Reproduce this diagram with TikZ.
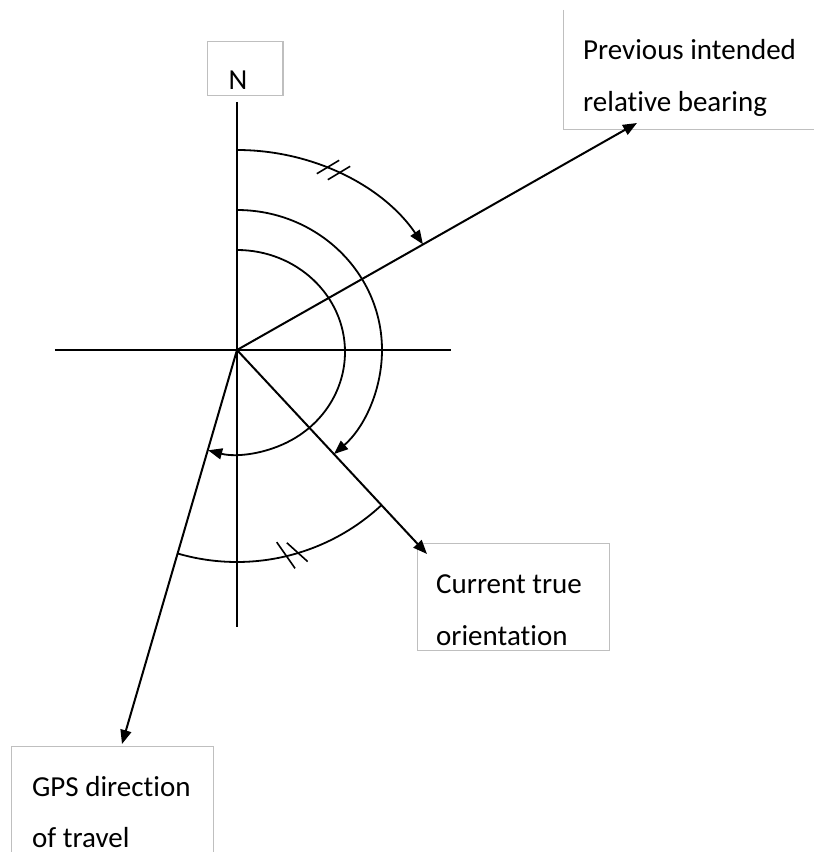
\documentclass[tikz,border=0pt]{standalone}
\usepackage{fontspec}
\setmainfont{Carlito}[Ligatures=NoCommon]
\usetikzlibrary{arrows.meta}
\begin{document}
\begin{tikzpicture}[x=1pt,y=1pt,
  axis/.style={line width=2pt},
  ray/.style={line width=2pt,-{Triangle[length=14pt,width=11pt]}},
  arcline/.style={line width=1.8pt},
  arcarrow/.style={line width=1.8pt,-{Triangle[length=14pt,width=11pt]}},
  tickmark/.style={line width=1.6pt},
  boxline/.style={draw=black!25,line width=1pt},
  lbl/.style={inner sep=0pt,anchor=base west,font=\fontsize{29}{35}\selectfont}]
\useasboundingbox (-237,-502) rectangle (577,350);
% boxes
\node[boxline,draw,minimum width=75pt,minimum height=54pt,inner sep=0pt] (nbox) at (8.5,281) {};
\node[boxline,draw,minimum width=192pt,minimum height=107pt,inner sep=0pt] (curbox) at (276,-246.5) {};
\node[boxline,draw,minimum width=202pt,minimum height=144pt,inner sep=0pt] (gpsbox) at (-124,-468) {};
\draw[boxline] (326,340) |- (620,220);
% texts
\node[lbl,anchor=base] (ntext) at (1,260) {N};
\node[lbl] (prev1) at (346,290) {Previous intended};
\node[lbl] (prev2) at (346,238) {relative bearing};
\node[lbl] (cur1) at (199,-243) {Current true};
\node[lbl] (cur2) at (199,-295) {orientation};
\node[lbl] (gps1) at (-205,-446) {GPS direction};
\node[lbl] (gps2) at (-205,-497) {of travel};
% coordinates
\coordinate (O) at (0,0);
\coordinate (Ntop) at (0,248);
\coordinate (Sbot) at (0,-277);
\coordinate (West) at (-182,0);
\coordinate (East) at (214,0);
\coordinate (prevtip) at (400,227);
\coordinate (curtip) at (190,-204);
\coordinate (gpstip) at (-115,-394);
% axes
\draw[axis] (Ntop) -- (Sbot);
\draw[axis] (West) -- (East);
% rays
\draw[ray] (O) -- (prevtip);
\draw[ray] (O) -- (curtip);
\draw[ray] (O) -- (gpstip);
% arcs
\draw[arcarrow] (0,200) arc[start angle=90,end angle=31.9,x radius=219,y radius=200];
\draw[arcarrow] (0,140) arc[start angle=90,end angle=-48,x radius=145,y radius=140];
\draw[arcarrow] (0,100) arc[start angle=90,end angle=-105.5,x radius=108,y radius=102];
\draw[arcline] (-47:212) arc[start angle=-47,end angle=-106.3,radius=212];
% tick marks
\draw[tickmark] (91,183) ++(211:13) -- ++(31:26);
\draw[tickmark] (102,177) ++(211:13) -- ++(31:26);
\draw[tickmark] (-76.6:211) ++(125:16) -- ++(-55:32);
\draw[tickmark] (-73.4:211) ++(138:14) -- ++(-42:28);
\end{tikzpicture}
\end{document}
